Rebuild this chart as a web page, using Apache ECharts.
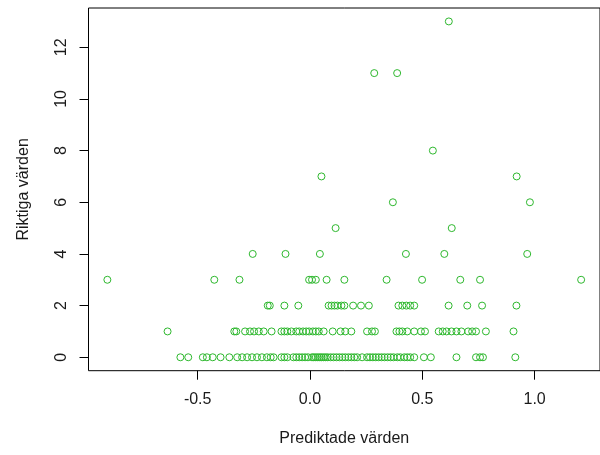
<!DOCTYPE html>
<html>
<head>
<meta charset="utf-8">
<script src="https://cdn.jsdelivr.net/npm/echarts@6/dist/echarts.min.js"></script>
<style>html,body{margin:0;padding:0;background:#fff}#c{width:600px;height:455px}</style>
</head>
<body>
<div id="c"></div>
<script>
// Predicted values (x) grouped by actual value (y)
var actualLevels = [0, 1, 2, 3, 4, 5, 6, 7, 8, 11, 13];
var predAt0 = [-0.577, -0.542, -0.477, -0.459, -0.433, -0.398, -0.359, -0.324, -0.302, -0.280, -0.258, -0.236, -0.214, -0.192, -0.175, -0.162, -0.127, -0.114, -0.101, -0.074, -0.061, -0.048, -0.035, -0.022, -0.009, 0.009, 0.017, 0.026, 0.035, 0.044, 0.052, 0.061, 0.070, 0.079, 0.092, 0.105, 0.118, 0.131, 0.144, 0.157, 0.171, 0.184, 0.197, 0.210, 0.232, 0.254, 0.267, 0.280, 0.293, 0.306, 0.319, 0.332, 0.346, 0.359, 0.372, 0.389, 0.402, 0.420, 0.433, 0.446, 0.464, 0.507, 0.538, 0.652, 0.739, 0.757, 0.770, 0.914];
var predAt1 = [-0.634, -0.337, -0.328, -0.289, -0.267, -0.249, -0.228, -0.206, -0.171, -0.127, -0.114, -0.101, -0.083, -0.061, -0.048, -0.031, -0.017, -0.004, 0.013, 0.026, 0.039, 0.061, 0.101, 0.136, 0.157, 0.184, 0.254, 0.276, 0.289, 0.385, 0.398, 0.411, 0.433, 0.464, 0.494, 0.512, 0.573, 0.591, 0.608, 0.630, 0.652, 0.674, 0.704, 0.722, 0.739, 0.783, 0.906];
var predAt2 = [-0.188, -0.179, -0.114, -0.052, 0.083, 0.096, 0.109, 0.122, 0.140, 0.153, 0.192, 0.227, 0.262, 0.394, 0.411, 0.429, 0.446, 0.464, 0.617, 0.700, 0.766, 0.919];
var predAt3 = [-0.902, -0.426, -0.314, -0.004, 0.009, 0.026, 0.074, 0.153, 0.341, 0.499, 0.669, 0.757, 1.207];
var predAt4 = [-0.255, -0.109, 0.044, 0.427, 0.598, 0.967];
var predAt5 = [0.114, 0.631];
var predAt6 = [0.369, 0.979];
var predAt7 = [0.051, 0.920];
var predAt8 = [0.547];
var predAt11 = [0.286, 0.388];
var predAt13 = [0.618];
var xTicks = [-0.5, 0, 0.5, 1.0];
var yTicks = [0, 2, 4, 6, 8, 10, 12];

var groups = [predAt0, predAt1, predAt2, predAt3, predAt4, predAt5, predAt6, predAt7, predAt8, predAt11, predAt13];
var points = [];
groups.forEach(function (g, i) {
  g.forEach(function (x) { points.push([x, actualLevels[i]]); });
});

var font = 'Liberation Sans, Arial, sans-serif';
var txt = '#1a1a1a';
var chart = echarts.init(document.getElementById('c'), null, {renderer: 'canvas'});
chart.setOption({
  animation: false,
  backgroundColor: '#fff',
  grid: {left: 88.5, top: 8, width: 520.6, height: 362.7, show: true, borderColor: '#000', borderWidth: 1, backgroundColor: 'transparent'},
  xAxis: {
    type: 'value', min: -0.986, max: 1.291,
    name: 'Prediktade värden', nameLocation: 'middle', nameGap: 60,
    nameTextStyle: {fontFamily: font, fontSize: 16, color: txt},
    axisLine: {show: false, onZero: false},
    splitLine: {show: false},
    axisTick: {show: true, length: 9, lineStyle: {color: '#000'}, customValues: xTicks},
    axisLabel: {customValues: xTicks, margin: 21, fontFamily: font, fontSize: 16, color: txt,
      formatter: function (v) { return v.toFixed(1); }}
  },
  yAxis: {
    type: 'value', min: -0.52, max: 13.52,
    name: 'Riktiga värden', nameLocation: 'middle', nameGap: 57, nameRotate: 90,
    nameTextStyle: {fontFamily: font, fontSize: 16, color: txt},
    axisLine: {show: false, onZero: false},
    splitLine: {show: false},
    axisTick: {show: true, length: 9, lineStyle: {color: '#000'}, customValues: yTicks},
    axisLabel: {customValues: yTicks, rotate: 90, margin: 19, fontFamily: font, fontSize: 16, color: txt,
      formatter: function (v) { return String(v); }}
  },
  series: [{
    type: 'scatter',
    data: points,
    symbol: 'circle',
    symbolSize: 7,
    itemStyle: {color: 'rgba(0,0,0,0)', borderColor: '#2eb82e', borderWidth: 1, opacity: 1}
  }]
});
</script>
</body>
</html>
